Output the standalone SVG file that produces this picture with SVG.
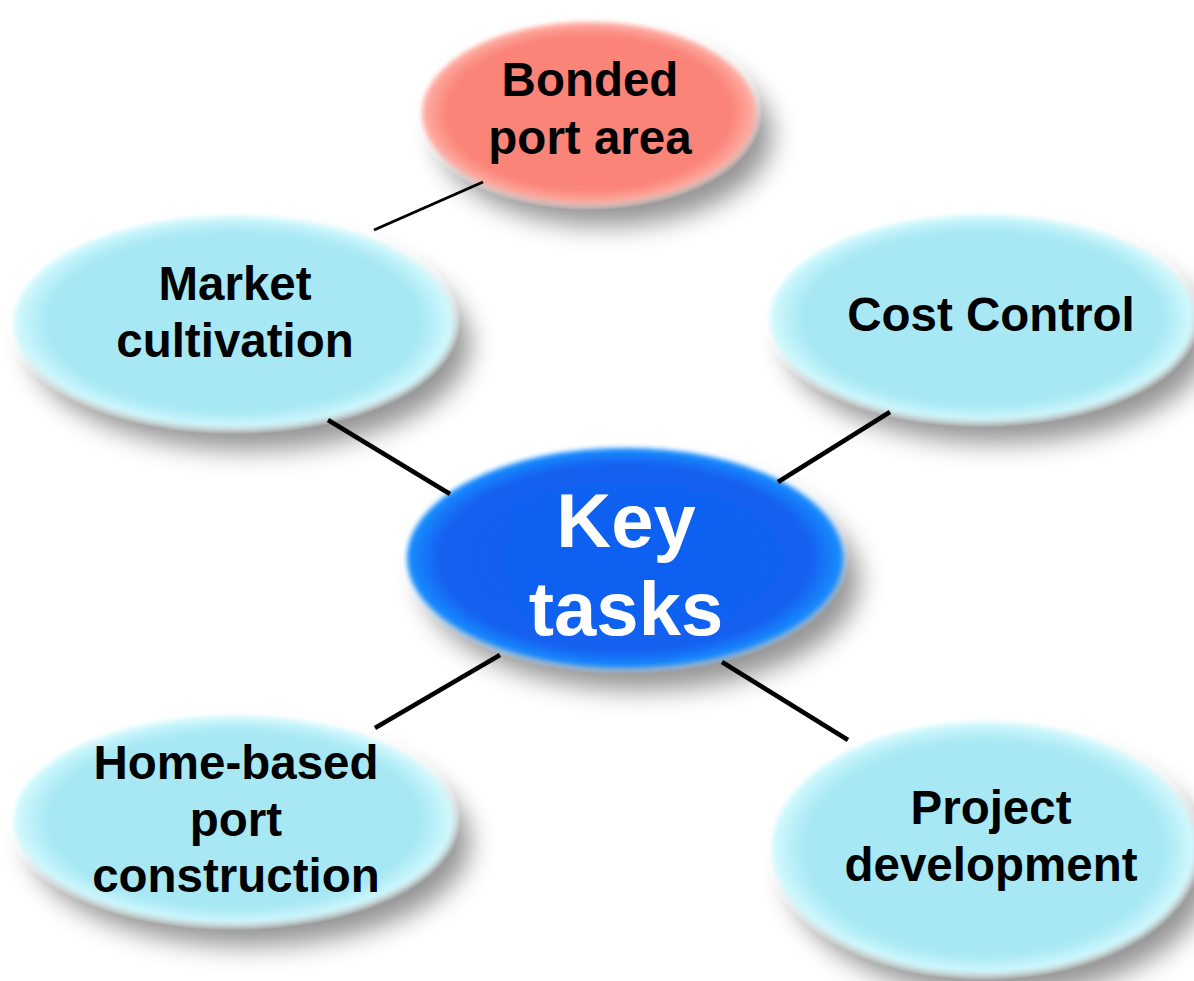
<svg xmlns="http://www.w3.org/2000/svg" width="1194" height="981" viewBox="0 0 1194 981">
<defs>
<filter id="soft" x="-20%" y="-20%" width="150%" height="170%">
<feGaussianBlur in="SourceAlpha" stdDeviation="13" result="b"/>
<feOffset in="b" dx="16" dy="22" result="o"/>
<feFlood flood-color="#000" flood-opacity="0.42"/>
<feComposite in2="o" operator="in" result="s"/>
<feGaussianBlur in="SourceGraphic" stdDeviation="2.5" result="g"/>
<feMerge><feMergeNode in="s"/><feMergeNode in="g"/></feMerge>
</filter>
<radialGradient id="cyan" cx="50%" cy="50%" r="50%">
<stop offset="0" stop-color="#A8E8F4"/>
<stop offset="0.85" stop-color="#A8E8F4"/>
<stop offset="1" stop-color="#D4FAFE"/>
</radialGradient>
<radialGradient id="red" cx="50%" cy="50%" r="50%">
<stop offset="0" stop-color="#FA8478"/>
<stop offset="0.85" stop-color="#FA8478"/>
<stop offset="1" stop-color="#FFB0A6"/>
</radialGradient>
<radialGradient id="blue" cx="50%" cy="50%" r="50%">
<stop offset="0" stop-color="#1060F0"/>
<stop offset="0.85" stop-color="#1260F0"/>
<stop offset="1" stop-color="#1A90FF"/>
</radialGradient>
<style>
.t{font-family:"Liberation Sans",Arial,sans-serif;font-weight:bold;text-anchor:middle;fill:#000;font-size:47.5px}
.w{fill:#fff;font-size:76px}
.c{stroke:#000;stroke-width:4.5;stroke-linecap:butt;fill:none}
</style>
</defs>
<rect width="1194" height="981" fill="#fff"/>
<g id="node-bonded">
<ellipse cx="589" cy="113" rx="167" ry="91" fill="url(#red)" filter="url(#soft)"/>
<text class="t" x="590" y="96">Bonded</text>
<text class="t" x="590" y="154">port area</text>
</g>
<g id="node-market">
<ellipse cx="234" cy="322" rx="220" ry="106" fill="url(#cyan)" filter="url(#soft)"/>
<text class="t" x="235" y="300">Market</text>
<text class="t" x="235" y="357">cultivation</text>
</g>
<g id="node-cost">
<ellipse cx="982" cy="318" rx="212" ry="103" fill="url(#cyan)" filter="url(#soft)"/>
<text class="t" x="991" y="331">Cost Control</text>
</g>
<g id="node-key">
<ellipse cx="625" cy="558" rx="218" ry="110" fill="url(#blue)" filter="url(#soft)"/>
<text class="t w" x="626" y="547">Key</text>
<text class="t w" x="626" y="635">tasks</text>
</g>
<g id="node-home">
<ellipse cx="234" cy="820" rx="220" ry="104" fill="url(#cyan)" filter="url(#soft)"/>
<text class="t" x="236" y="779">Home-based</text>
<text class="t" x="236" y="836">port</text>
<text class="t" x="236" y="892">construction</text>
</g>
<g id="node-project">
<ellipse cx="984" cy="848" rx="212" ry="126" fill="url(#cyan)" filter="url(#soft)"/>
<text class="t" x="991" y="824">Project</text>
<text class="t" x="991" y="881">development</text>
</g>
<g id="connectors">
<line class="c" x1="483" y1="182" x2="374" y2="230" style="stroke-width:3"/>
<line class="c" x1="328" y1="420" x2="450" y2="494"/>
<line class="c" x1="890" y1="412" x2="778" y2="482"/>
<line class="c" x1="500" y1="655" x2="375" y2="728"/>
<line class="c" x1="722" y1="662" x2="848" y2="740"/>
</g>
</svg>
